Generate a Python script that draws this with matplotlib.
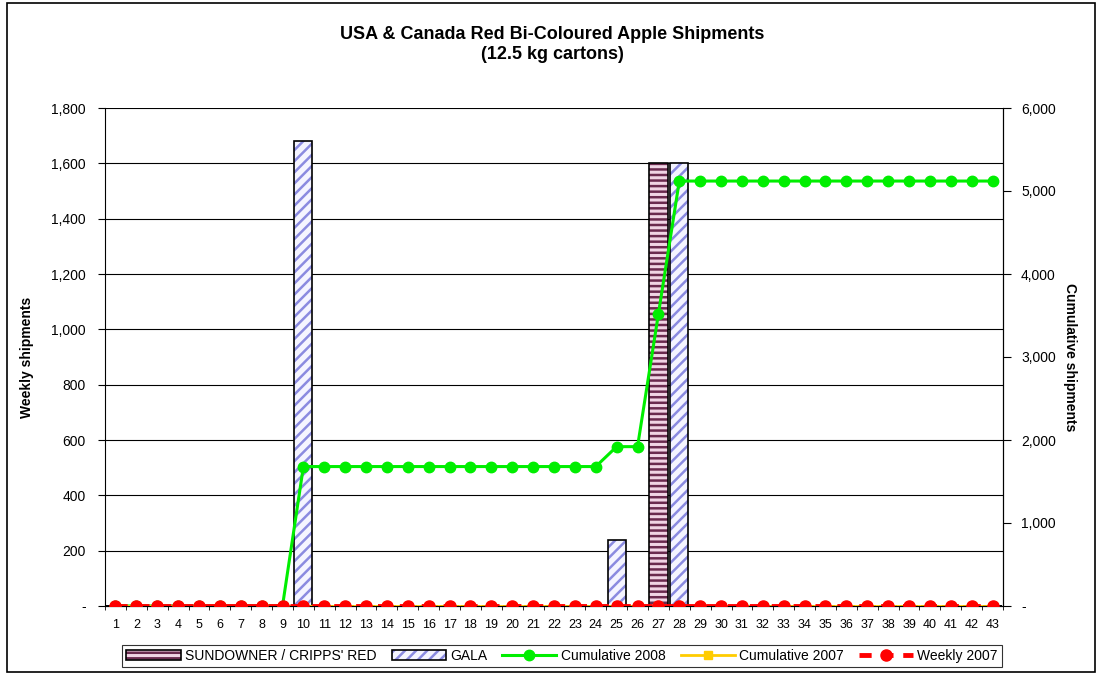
import numpy as np
import matplotlib.pyplot as plt
from matplotlib.patches import Rectangle, Patch
from matplotlib.lines import Line2D
from matplotlib.legend_handler import HandlerTuple

plt.rcParams['font.family'] = ['Liberation Sans', 'DejaVu Sans']
plt.rcParams['hatch.linewidth'] = 1.8

# dados
semanas = list(range(1, 44))
sundowner = {27: 1600}
gala = {10: 1680, 25: 240, 28: 1600}
cum_2008 = [0] * 9 + [1680] * 15 + [1920] * 2 + [3520] + [5120] * 16
cum_2007 = [0] * 43
weekly_2007 = [0] * 43

sund_vals = [sundowner.get(s, 0) for s in semanas]
gala_vals = [gala.get(s, 0) for s in semanas]

fig = plt.figure(figsize=(10.98, 6.74), dpi=100)
ax = fig.add_axes([105 / 1098, 1 - 606 / 674, 898 / 1098, 498 / 674])
ax2 = ax.twinx()

# moldura do gráfico
fig.patches.append(Rectangle((7 / 1098, 2 / 674), 1088 / 1098, 669 / 674,
                             transform=fig.transFigure, fill=False,
                             edgecolor='black', linewidth=1.2))

w = 0.87
sund_face, sund_hatch = '#f0d4e4', '#6a2a4e'
gala_face, gala_hatch = '#f4f4ff', '#8a8ae0'
# barras: primeiro o preenchimento com hachura, depois a borda preta
ax.bar(semanas, sund_vals, width=w, color=sund_face, hatch='---',
       edgecolor=sund_hatch, linewidth=0, zorder=2)
ax.bar(semanas, sund_vals, width=w, fill=False, edgecolor='black',
       linewidth=1.2, zorder=3)
ax.bar(semanas, gala_vals, width=w, color=gala_face, hatch='///',
       edgecolor=gala_hatch, linewidth=0, zorder=2)
ax.bar(semanas, gala_vals, width=w, fill=False, edgecolor='black',
       linewidth=1.2, zorder=3)

ax.set_xlim(0.5, 43.5)
ax.set_ylim(0, 1800)
ax.set_yticks(range(0, 1801, 200))
ax.set_yticklabels(['-'] + [f'{v:,}' for v in range(200, 1801, 200)], fontsize=10)
ax.yaxis.grid(True, color='black', linewidth=0.8)
ax.set_axisbelow(True)
ax.set_xticks(semanas)
ax.set_xticklabels([str(s) for s in semanas], fontsize=9)
ax.tick_params(axis='x', length=0, pad=9)
ax.set_xticks(np.arange(0.5, 44, 1), minor=True)
ax.tick_params(axis='x', which='minor', length=3, direction='out')
ax.tick_params(axis='y', length=5, direction='out', pad=9)
ax.set_ylabel('Weekly shipments', fontsize=10, fontweight='bold', labelpad=12)
ax.spines['top'].set_visible(False)

# linhas no eixo secundário
ax2.plot(semanas, cum_2008, color='#00ee00', linewidth=2.2, marker='o',
         markersize=7.5, zorder=4)
ax2.plot(semanas, cum_2007, color='#ffcc00', linewidth=2, marker='s',
         markersize=6, zorder=5)
ax2.plot(semanas, weekly_2007, color='#ff0000', linewidth=3.5,
         linestyle=(0, (2.5, 2)), marker='o', markersize=8, zorder=6)
ax2.set_ylim(0, 6000)
ax2.set_yticks(range(0, 6001, 1000))
ax2.set_yticklabels(['-'] + [f'{v:,}' for v in range(1000, 6001, 1000)], fontsize=10)
ax2.tick_params(axis='y', length=6, direction='out', pad=7)
ax2.set_ylabel('Cumulative shipments', fontsize=10, fontweight='bold',
               rotation=270, labelpad=15)
ax2.spines['top'].set_visible(False)
ax2.spines['left'].set_visible(False)

fig.text(0.503, 0.934, 'USA & Canada Red Bi-Coloured Apple Shipments\n(12.5 kg cartons)',
         ha='center', va='center', fontsize=13, fontweight='bold', linespacing=1.25)

handles = [
    (Patch(facecolor=sund_face, hatch='---', edgecolor=sund_hatch, linewidth=0),
     Patch(fill=False, edgecolor='black', linewidth=1.2)),
    (Patch(facecolor=gala_face, hatch='///', edgecolor=gala_hatch, linewidth=0),
     Patch(fill=False, edgecolor='black', linewidth=1.2)),
    Line2D([], [], color='#00ee00', linewidth=2.2, marker='o', markersize=7.5),
    Line2D([], [], color='#ffcc00', linewidth=2, marker='s', markersize=6),
    Line2D([], [], color='#ff0000', linewidth=3.5, linestyle=(0, (2.5, 2)),
           marker='o', markersize=8),
]
labels = ["SUNDOWNER / CRIPPS' RED", 'GALA', 'Cumulative 2008',
          'Cumulative 2007', 'Weekly 2007']
leg = fig.legend(handles, labels, loc='lower center', bbox_to_anchor=(0.512, 0.0),
                 ncol=5, fontsize=10, frameon=True, fancybox=False,
                 edgecolor='black', handlelength=3.9, columnspacing=1.1,
                 handletextpad=0.3, borderpad=0.3,
                 handler_map={tuple: HandlerTuple(ndivide=1, pad=0)})
leg.get_frame().set_linewidth(0.8)

fig.savefig('out.png', dpi=100)
